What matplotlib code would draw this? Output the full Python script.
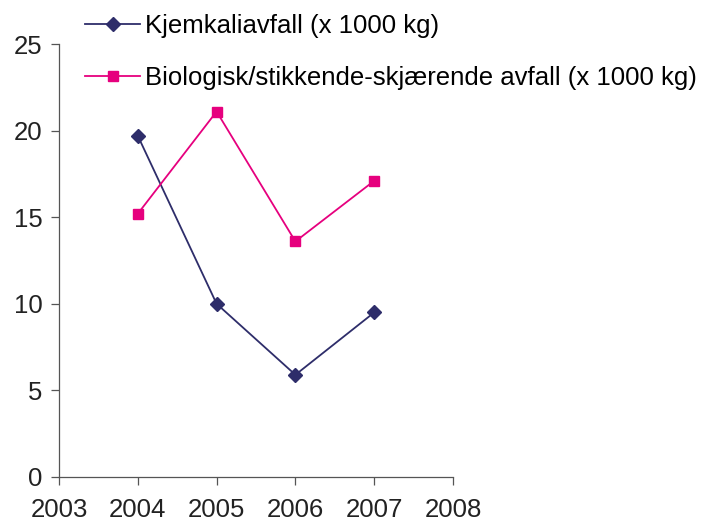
import matplotlib.pyplot as plt

years = [2004, 2005, 2006, 2007]
kjemkali = [19.7, 10.0, 5.9, 9.5]
biologisk = [15.2, 21.1, 13.6, 17.1]
labels = ["Kjemkaliavfall (x 1000 kg)",
          "Biologisk/stikkende-skjærende avfall (x 1000 kg)"]

plt.rcParams['font.family'] = ['Liberation Sans', 'DejaVu Sans']

fig = plt.figure(figsize=(7.08, 5.25), dpi=100)
ax = fig.add_axes([59/708, 1 - 477/525, (453 - 59)/708, (477 - 44)/525])

l1, = ax.plot(years, kjemkali, color="#2e2d6a", marker="D", markersize=7.5,
              linewidth=1.3, label=labels[0])
l2, = ax.plot(years, biologisk, color="#e6007e", marker="s", markersize=7.5,
              linewidth=1.3, label=labels[1])

ax.set_xlim(2003, 2008)
ax.set_ylim(0, 25)
ax.set_xticks(range(2003, 2009))
ax.set_yticks(range(0, 26, 5))
for s in ["top", "right"]:
    ax.spines[s].set_visible(False)
for s in ["left", "bottom"]:
    ax.spines[s].set_color("#555555")
    ax.spines[s].set_linewidth(0.9)
ax.tick_params(colors="#555555", labelcolor="#222222", labelsize=18.5, length=6, width=0.9)
ax.tick_params(axis="x", pad=9)
ax.tick_params(axis="y", pad=6)

fig.legend(handles=[l1, l2], loc="upper left", bbox_to_anchor=(85/708, 1 - 14/525),
           frameon=False, fontsize=18.5, handlelength=2.15, handletextpad=0.2,
           labelspacing=1.1, borderaxespad=0, borderpad=0)

fig.savefig("out.png", dpi=100)
